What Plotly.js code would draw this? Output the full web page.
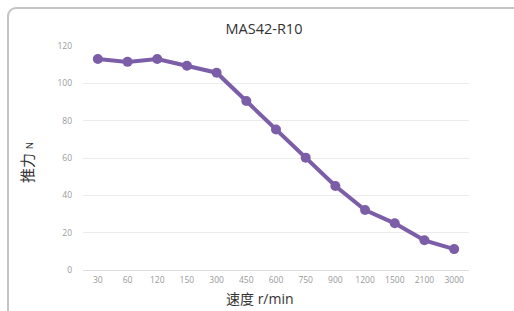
<!DOCTYPE html>
<html>
<head>
<meta charset="utf-8">
<script src="https://cdn.plot.ly/plotly-3.0.1.min.js"></script>
<style>
html,body{margin:0;padding:0;background:#fff;overflow:hidden;}
#card{position:absolute;left:7px;top:7px;width:520px;height:320px;border:2px solid #c4c4c4;border-top-left-radius:9px;box-sizing:border-box;}
#chart{position:absolute;left:0;top:0;width:514px;height:311px;}
</style>
</head>
<body>
<div id="card"></div>
<div id="chart"></div>
<script>
var speeds = ['30','60','120','150','300','450','600','750','900','1200','1500','2100','3000'];
var thrust = [113, 111.5, 113, 109.4, 105.7, 90.5, 75.3, 60.2, 45, 32.1, 25, 15.9, 11.2];
var yTicks = [0, 20, 40, 60, 80, 100, 120];
var xTitle = '速度 r/min';
var yTitle = '推力 <span style="font-size:9px">N</span>';
var chartTitle = 'MAS42-R10';

var trace = {
  x: speeds,
  y: thrust,
  type: 'scatter',
  mode: 'lines+markers',
  line: {color: '#7b5ea7', width: 4},
  marker: {color: '#7b5ea7', size: 10},
  hoverinfo: 'none'
};

var fontFam = '"Open Sans", "Noto Sans CJK SC", sans-serif';
var layout = {
  width: 514, height: 311,
  paper_bgcolor: 'rgba(0,0,0,0)',
  plot_bgcolor: 'rgba(0,0,0,0)',
  margin: {l: 83, r: 45, t: 46, b: 41},
  showlegend: false,
  title: {text: chartTitle, font: {family: fontFam, size: 14.5, color: '#333'}, x: 0.5136, xanchor: 'center', y: 0.907, yanchor: 'middle'},
  xaxis: {
    type: 'category',
    range: [-0.5, 12.5],
    showgrid: false,
    zeroline: false,
    showline: false,
    ticks: '',
    ticklabelstandoff: 3,
    tickfont: {family: fontFam, size: 8.5, color: '#999'}
  },
  yaxis: {
    range: [0, 120],
    tickvals: yTicks,
    ticktext: yTicks.map(String),
    showgrid: true,
    gridcolor: '#ebebeb',
    gridwidth: 1,
    zeroline: true,
    zerolinecolor: '#dcdcdc',
    zerolinewidth: 1,
    showline: false,
    ticks: '',
    ticklabelstandoff: 10,
    tickfont: {family: fontFam, size: 8.5, color: '#999'}
  },
  annotations: [
    {text: xTitle, xref: 'paper', yref: 'paper', x: 0.4585, y: -0.125, xanchor: 'center', yanchor: 'middle', showarrow: false,
     font: {family: fontFam, size: 14, color: '#333'}},
    {text: yTitle, xref: 'paper', yref: 'paper', x: -0.145, y: 0.478, xanchor: 'center', yanchor: 'middle', showarrow: false, textangle: -90,
     font: {family: fontFam, size: 15, color: '#333'}}
  ]
};

Plotly.newPlot('chart', [trace], layout, {staticPlot: true, displayModeBar: false});
</script>
</body>
</html>
